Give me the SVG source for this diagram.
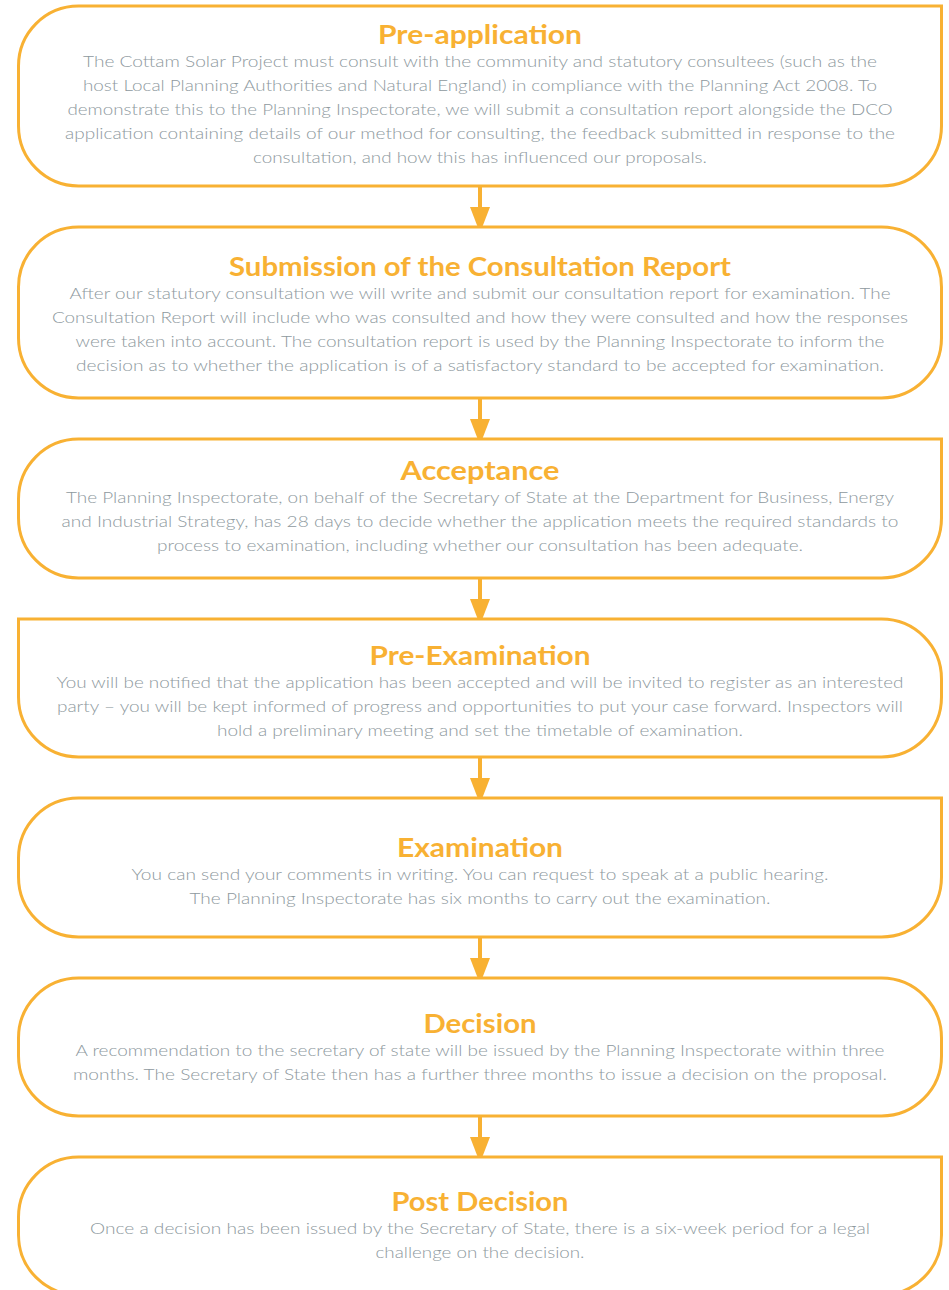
<svg xmlns="http://www.w3.org/2000/svg" width="949" height="1290" viewBox="0 0 949 1290">
<style>
.box{fill:#ffffff;stroke:#F8B133;stroke-width:3}
.title{font-family:"Lato","Open Sans","Liberation Sans",sans-serif;font-weight:700;font-size:26px;fill:#F8B133;text-anchor:middle}
.body{font-family:"Lato","Open Sans","Liberation Sans",sans-serif;font-weight:300;font-size:15.5px;fill:#8E999E;text-anchor:middle}
.conn{stroke:#F8B133;stroke-width:4;fill:none}
</style>
<defs>
<marker id="ah" markerUnits="userSpaceOnUse" viewBox="0 0 26 20" refX="0" refY="10" markerWidth="26" markerHeight="20" orient="auto">
<path d="M0,0 L26,10 L0,20 Z" fill="#F8B133"/>
</marker>
</defs>
<rect width="949" height="1290" fill="#ffffff"/>

<g id="connectors">
<line class="conn" x1="480" y1="186" x2="480" y2="207" marker-end="url(#ah)"/>
<line class="conn" x1="480" y1="398" x2="480" y2="419" marker-end="url(#ah)"/>
<line class="conn" x1="480" y1="578" x2="480" y2="599" marker-end="url(#ah)"/>
<line class="conn" x1="480" y1="757" x2="480" y2="778" marker-end="url(#ah)"/>
<line class="conn" x1="480" y1="937" x2="480" y2="958" marker-end="url(#ah)"/>
<line class="conn" x1="480" y1="1116" x2="480" y2="1137" marker-end="url(#ah)"/>
</g>

<g id="pre-application">
<path class="box" d="M78.5,6 H941.5 V126 A60,60 0 0 1 881.5,186 H78.5 A60,60 0 0 1 18.5,126 V66 A60,60 0 0 1 78.5,6 Z"/>
<text class="title" x="480" y="43.5" textLength="204" lengthAdjust="spacingAndGlyphs">Pre-application</text>
<text class="body" x="480" y="67" textLength="794" lengthAdjust="spacingAndGlyphs">The Cottam Solar Project must consult with the community and statutory consultees (such as the</text>
<text class="body" x="480" y="91" textLength="794" lengthAdjust="spacingAndGlyphs">host Local Planning Authorities and Natural England) in compliance with the Planning Act 2008. To</text>
<text class="body" x="480" y="115" textLength="825" lengthAdjust="spacingAndGlyphs">demonstrate this to the Planning Inspectorate, we will submit a consultation report alongside the DCO</text>
<text class="body" x="480" y="139" textLength="830" lengthAdjust="spacingAndGlyphs">application containing details of our method for consulting, the feedback submitted in response to the</text>
<text class="body" x="480" y="163" textLength="454" lengthAdjust="spacingAndGlyphs">consultation, and how this has influenced our proposals.</text>
</g>

<g id="submission">
<path class="box" d="M78.5,227 H881.5 A60,60 0 0 1 941.5,287 V338 A60,60 0 0 1 881.5,398 H78.5 A60,60 0 0 1 18.5,338 V287 A60,60 0 0 1 78.5,227 Z"/>
<text class="title" x="480" y="275.5" textLength="502" lengthAdjust="spacingAndGlyphs">Submission of the Consultation Report</text>
<text class="body" x="480" y="299" textLength="821" lengthAdjust="spacingAndGlyphs">After our statutory consultation we will write and submit our consultation report for examination. The</text>
<text class="body" x="480" y="323" textLength="856" lengthAdjust="spacingAndGlyphs">Consultation Report will include who was consulted and how they were consulted and how the responses</text>
<text class="body" x="480" y="347" textLength="809" lengthAdjust="spacingAndGlyphs">were taken into account. The consultation report is used by the Planning Inspectorate to inform the</text>
<text class="body" x="480" y="371" textLength="808" lengthAdjust="spacingAndGlyphs">decision as to whether the application is of a satisfactory standard to be accepted for examination.</text>
</g>

<g id="acceptance">
<path class="box" d="M78.5,439 H941.5 V518 A60,60 0 0 1 881.5,578 H78.5 A60,60 0 0 1 18.5,518 V499 A60,60 0 0 1 78.5,439 Z"/>
<text class="title" x="480" y="479.5" textLength="159" lengthAdjust="spacingAndGlyphs">Acceptance</text>
<text class="body" x="480" y="503" textLength="828" lengthAdjust="spacingAndGlyphs">The Planning Inspectorate, on behalf of the Secretary of State at the Department for Business, Energy</text>
<text class="body" x="480" y="527" textLength="837" lengthAdjust="spacingAndGlyphs">and Industrial Strategy, has 28 days to decide whether the application meets the required standards to</text>
<text class="body" x="480" y="551" textLength="646" lengthAdjust="spacingAndGlyphs">process to examination, including whether our consultation has been adequate.</text>
</g>

<g id="pre-examination">
<path class="box" d="M18.5,619 H881.5 A60,60 0 0 1 941.5,679 V697 A60,60 0 0 1 881.5,757 H78.5 A60,60 0 0 1 18.5,697 Z"/>
<text class="title" x="480" y="664.5" textLength="221" lengthAdjust="spacingAndGlyphs">Pre-Examination</text>
<text class="body" x="480" y="688" textLength="847" lengthAdjust="spacingAndGlyphs">You will be notified that the application has been accepted and will be invited to register as an interested</text>
<text class="body" x="480" y="712" textLength="846" lengthAdjust="spacingAndGlyphs">party – you will be kept informed of progress and opportunities to put your case forward. Inspectors will</text>
<text class="body" x="480" y="736" textLength="526" lengthAdjust="spacingAndGlyphs">hold a preliminary meeting and set the timetable of examination.</text>
</g>

<g id="examination">
<path class="box" d="M78.5,798 H941.5 V877 A60,60 0 0 1 881.5,937 H78.5 A60,60 0 0 1 18.5,877 V858 A60,60 0 0 1 78.5,798 Z"/>
<text class="title" x="480" y="856.5" textLength="166" lengthAdjust="spacingAndGlyphs">Examination</text>
<text class="body" x="480" y="880" textLength="697" lengthAdjust="spacingAndGlyphs">You can send your comments in writing. You can request to speak at a public hearing.</text>
<text class="body" x="480" y="904" textLength="581" lengthAdjust="spacingAndGlyphs">The Planning Inspectorate has six months to carry out the examination.</text>
</g>

<g id="decision">
<path class="box" d="M78.5,978 H881.5 A60,60 0 0 1 941.5,1038 V1056 A60,60 0 0 1 881.5,1116 H78.5 A60,60 0 0 1 18.5,1056 V1038 A60,60 0 0 1 78.5,978 Z"/>
<text class="title" x="480" y="1032.5" textLength="113" lengthAdjust="spacingAndGlyphs">Decision</text>
<text class="body" x="480" y="1056" textLength="809" lengthAdjust="spacingAndGlyphs">A recommendation to the secretary of state will be issued by the Planning Inspectorate within three</text>
<text class="body" x="480" y="1080" textLength="814" lengthAdjust="spacingAndGlyphs">months. The Secretary of State then has a further three months to issue a decision on the proposal.</text>
</g>

<g id="post-decision">
<path class="box" d="M78.5,1157 H941.5 V1235 A60,60 0 0 1 881.5,1295 H78.5 A60,60 0 0 1 18.5,1235 V1217 A60,60 0 0 1 78.5,1157 Z"/>
<text class="title" x="480" y="1210.5" textLength="177" lengthAdjust="spacingAndGlyphs">Post Decision</text>
<text class="body" x="480" y="1234" textLength="780" lengthAdjust="spacingAndGlyphs">Once a decision has been issued by the Secretary of State, there is a six-week period for a legal</text>
<text class="body" x="480" y="1258" textLength="209" lengthAdjust="spacingAndGlyphs">challenge on the decision.</text>
</g>
</svg>
